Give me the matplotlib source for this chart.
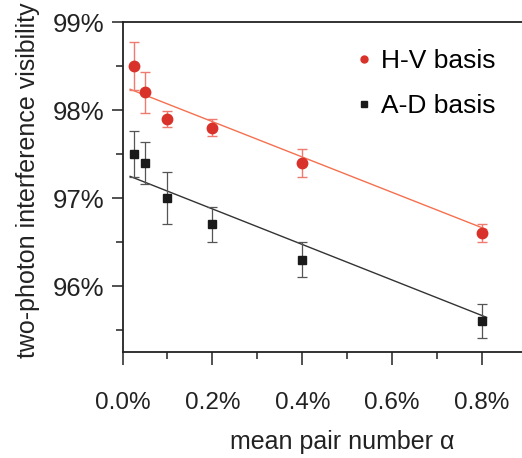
import matplotlib
matplotlib.use("Agg")
import matplotlib.pyplot as plt
import numpy as np
from matplotlib.ticker import MultipleLocator, FuncFormatter
from matplotlib.lines import Line2D

plt.rcParams['font.family'] = ['Liberation Sans', 'DejaVu Sans']

# data (percent)
alpha = [0.025, 0.05, 0.1, 0.2, 0.4, 0.8]
hv_vis = [98.5, 98.2, 97.9, 97.8, 97.4, 96.6]
hv_err = [0.27, 0.23, 0.09, 0.10, 0.16, 0.10]
ad_vis = [97.5, 97.4, 97.0, 96.7, 96.3, 95.6]
ad_err = [0.26, 0.24, 0.30, 0.20, 0.20, 0.19]
# linear fits: intercept, slope (per %)
hv_fit = [98.27, -2.01]
ad_fit = [97.28, -2.02]
fit_range = [0.017, 0.81]

fig = plt.figure(figsize=(5.22, 4.58), dpi=100)
ax = fig.add_axes([122.5/522, 106/458, (527-122.5)/522, 330/458])

red = '#d8322a'
red_line = '#f5704f'
blk = '#1a1a1a'

xf = np.array(fit_range)
ax.plot(xf, hv_fit[0] + hv_fit[1]*xf, color=red_line, lw=1.0, zorder=2)
ax.plot(xf, ad_fit[0] + ad_fit[1]*xf, color='#333333', lw=1.0, zorder=2)

ax.errorbar(alpha, hv_vis, yerr=hv_err, fmt='o', color=red, ms=7.5,
            ecolor='#ee7a70', elinewidth=1.0, capsize=3.5, capthick=1.0, zorder=3)
ax.errorbar(alpha, ad_vis, yerr=ad_err, fmt='s', color=blk, ms=6,
            ecolor='#555555', elinewidth=0.9, capsize=3.5, capthick=0.9, zorder=3)

ax.set_xlim(0, 0.9)
ax.set_ylim(95.25, 99)
ax.xaxis.set_major_locator(MultipleLocator(0.2))
ax.xaxis.set_minor_locator(MultipleLocator(0.1))
ax.yaxis.set_major_locator(MultipleLocator(1))
ax.yaxis.set_minor_locator(MultipleLocator(0.5))
ax.xaxis.set_major_formatter(FuncFormatter(lambda v, p: f"{v:.1f}%"))
ax.yaxis.set_major_formatter(FuncFormatter(lambda v, p: f"{v:.0f}%"))

for s in ax.spines.values():
    s.set_linewidth(1.3)
    s.set_color('#222222')
ax.spines['right'].set_visible(False)

ax.tick_params(axis='both', which='major', direction='out', length=8, width=1.1, colors='#222222')
ax.tick_params(axis='both', which='minor', direction='out', length=5, width=1.1, colors='#222222')
ax.tick_params(axis='y', labelsize=18.5, pad=5)
ax.tick_params(axis='x', labelsize=17.5, pad=20)
ax.tick_params(axis='x', which='major', length=9)

ax.set_ylabel('two-photon interference visibility', fontsize=18, color='#222222')
ax.yaxis.set_label_coords(-0.205, 0.521)
ax.set_xlabel('mean pair number α', fontsize=18, color='#222222')
ax.xaxis.set_label_coords(0.542, -0.235)

handles = [Line2D([], [], marker='o', ls='none', color=red, ms=5),
           Line2D([], [], marker='s', ls='none', color=blk, ms=4.5)]
ax.legend(handles, ['H-V basis', 'A-D basis'], loc='upper left',
          bbox_to_anchor=(0.506, 0.99), frameon=False, fontsize=19,
          handletextpad=0.15, labelspacing=0.8, handlelength=1.0)

fig.savefig('out.png', dpi=100)
